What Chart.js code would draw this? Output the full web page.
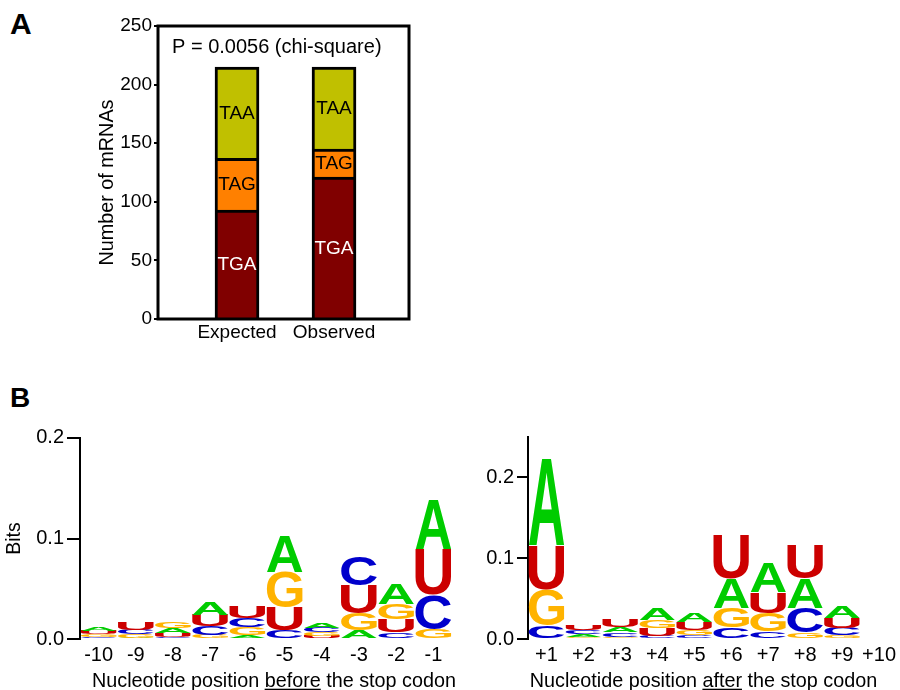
<!DOCTYPE html>
<html lang="en">
<head>
<meta charset="UTF-8">
<title>Stop codon usage and sequence context</title>
<script src="https://cdn.jsdelivr.net/npm/chart.js@4.4.1/dist/chart.umd.min.js"></script>
<style>
  body { margin: 0; width: 900px; height: 690px; overflow: hidden; background: #fff; position: relative;
         font-family: "Liberation Sans", Arial, sans-serif; }
  canvas, .tag { position: absolute; }
  .tag { font-weight: bold; line-height: 1; }
</style>
</head>
<body>
<div class="tag" style="left:10px;top:9px;font-size:30px">A</div>
<div class="tag" style="left:10px;top:384px;font-size:28px">B</div>
<canvas id="codons" width="450" height="350" style="left:0;top:0"></canvas>
<canvas id="before" width="470" height="310" style="left:0;top:380px"></canvas>
<canvas id="after" width="430" height="310" style="left:470px;top:380px"></canvas>
<script>
// ---- panel A : stop codon counts ----
const groups = ['Expected', 'Observed'];
const tgaCounts = [93, 121];
const tagCounts = [44, 24];
const taaCounts = [78, 70];
const pText = 'P = 0.0056 (chi-square)';

// ---- panel B : letter heights (bits) ----
const beforePos = ['-10', '-9', '-8', '-7', '-6', '-5', '-4', '-3', '-2', '-1'];
const beforeA = [0.004, 0.0015, 0.005, 0.0122, 0.004, 0.036, 0.005, 0.0086, 0.0205, 0.048];
const beforeC = [0.002, 0.0045, 0.0025, 0.0086, 0.009, 0.0086, 0.0045, 0.0284, 0.0066, 0.034];
const beforeG = [0.003, 0.0035, 0.007, 0.0046, 0.008, 0.035, 0.004, 0.017, 0.015, 0.010];
const beforeU = [0.0035, 0.0077, 0.004, 0.011, 0.011, 0.023, 0.003, 0.0278, 0.013, 0.045];

const afterPos = ['+1', '+2', '+3', '+4', '+5', '+6', '+7', '+8', '+9', '+10'];
const afterA = [0.106, 0.0035, 0.0065, 0.015, 0.0115, 0.037, 0.0367, 0.037, 0.015, 0];
const afterC = [0.0165, 0.0055, 0.005, 0.004, 0.005, 0.014, 0.010, 0.030, 0.009, 0];
const afterG = [0.044, 0.0025, 0.003, 0.010, 0.006, 0.024, 0.022, 0.008, 0.005, 0];
const afterU = [0.055, 0.0065, 0.0095, 0.009, 0.010, 0.0545, 0.026, 0.041, 0.012, 0];

const FONT = '"Liberation Sans", Arial, sans-serif';
Chart.defaults.font.family = FONT;
Chart.defaults.font.size = 19;
Chart.defaults.color = '#000';

// frame, p value, y title and segment names for panel A
const codonFrame = {
  id: 'codonFrame',
  afterDatasetsDraw(chart) {
    const { ctx, chartArea: a } = chart;
    ctx.save();
    ctx.font = '19px ' + FONT;
    ctx.textAlign = 'center';
    ctx.textBaseline = 'middle';
    chart.data.datasets.forEach((ds, di) => {
      chart.getDatasetMeta(di).data.forEach(bar => {
        const p = bar.getProps(['x', 'y', 'base'], true);
        ctx.fillStyle = ds.textColor;
        ctx.fillText(ds.label, p.x, (p.y + p.base) / 2 + 1);
      });
    });
    ctx.lineWidth = 3;
    ctx.strokeStyle = '#000';
    ctx.strokeRect(a.left, a.top, a.right - a.left, a.bottom - a.top);
    ctx.fillStyle = '#000';
    ctx.font = '20px ' + FONT;
    ctx.textAlign = 'left';
    ctx.textBaseline = 'alphabetic';
    ctx.fillText(pText, a.left + 14, a.top + 27);
    // y title sits a little below the middle of the axis
    ctx.font = '19.8px ' + FONT;
    ctx.textAlign = 'center';
    ctx.textBaseline = 'middle';
    ctx.translate(108, 182.5);
    ctx.rotate(-Math.PI / 2);
    ctx.fillText('Number of mRNAs', 0, 0);
    ctx.restore();
  }
};

new Chart(document.getElementById('codons'), {
  type: 'bar',
  data: {
    datasets: [
      { label: 'TGA', data: tgaCounts.map((v, i) => ({ x: i + 1, y: v })), backgroundColor: '#800000', textColor: '#fff' },
      { label: 'TAG', data: tagCounts.map((v, i) => ({ x: i + 1, y: v })), backgroundColor: '#ff8000', textColor: '#000' },
      { label: 'TAA', data: taaCounts.map((v, i) => ({ x: i + 1, y: v })), backgroundColor: '#c0c000', textColor: '#000' }
    ]
  },
  options: {
    responsive: false,
    animation: false,
    datasets: { bar: { barThickness: 44, borderWidth: 3, borderColor: '#000', borderSkipped: 'start' } },
    layout: { padding: { left: 0, right: 41, top: 26, bottom: 0 } },
    plugins: { legend: { display: false }, tooltip: { enabled: false } },
    scales: {
      x: {
        type: 'linear', stacked: true, offset: false, bounds: 'data', min: 0.1856, max: 2.773,
        grid: { display: false, drawTicks: false }, border: { display: false },
        ticks: { padding: 2.5, maxRotation: 0, autoSkip: false, callback: v => groups[Math.round(v) - 1] || '' },
        afterBuildTicks: s => { s.ticks = groups.map((g, i) => ({ value: i + 1 })); },
        afterFit: s => { s.height = 31; }
      },
      y: {
        stacked: true, min: 0, max: 250,
        ticks: { stepSize: 50, padding: 2 },
        grid: { drawOnChartArea: false, tickLength: 4, lineWidth: 2, color: '#000' },
        border: { display: false },
        afterFit: s => { s.width = 158; }
      }
    }
  },
  plugins: [codonFrame]
});

// ---- logos ----
const letterColors = { A: '#00cc00', C: '#0000cc', G: '#ffb300', U: '#cc0000' };

// one dataset per rank so that the smallest letter sits at the bottom of each column
function stackLetters(cols) {
  const sets = [0, 1, 2, 3].map(() => ({ data: [], letters: [] }));
  for (let i = 0; i < cols.A.length; i++) {
    const col = ['A', 'C', 'G', 'U'].map(l => ({ l, v: cols[l][i] })).sort((a, b) => a.v - b.v);
    col.forEach((c, r) => { sets[r].data.push(c.v); sets[r].letters.push(c.l); });
  }
  return sets.map(s => ({
    data: s.data, letters: s.letters,
    backgroundColor: 'rgba(0,0,0,0)', borderWidth: 0,
    barPercentage: 0.96, categoryPercentage: 1
  }));
}

const glyphs = {};
function glyph(ctx, l) {
  if (!glyphs[l]) {
    ctx.font = 'bold 200px ' + FONT;
    const m = ctx.measureText(l);
    glyphs[l] = {
      left: m.actualBoundingBoxLeft,
      w: m.actualBoundingBoxLeft + m.actualBoundingBoxRight,
      asc: m.actualBoundingBoxAscent,
      h: m.actualBoundingBoxAscent + m.actualBoundingBoxDescent
    };
  }
  return glyphs[l];
}

const logoLetters = {
  id: 'logoLetters',
  afterDatasetsDraw(chart) {
    const ctx = chart.ctx;
    chart.data.datasets.forEach((ds, di) => {
      chart.getDatasetMeta(di).data.forEach((bar, i) => {
        const p = bar.getProps(['x', 'y', 'base', 'width'], true);
        const h = p.base - p.y;
        if (h < 0.3) return;
        const l = ds.letters[i];
        ctx.save();
        const g = glyph(ctx, l);
        ctx.font = 'bold 200px ' + FONT;
        ctx.fillStyle = letterColors[l];
        ctx.textAlign = 'left';
        ctx.textBaseline = 'alphabetic';
        ctx.translate(p.x - p.width / 2, p.y);
        ctx.scale(p.width / g.w, h / g.h);
        ctx.fillText(l, g.left, g.asc);
        ctx.restore();
      });
    });
  }
};

// x title with one underlined word
const underTitle = {
  id: 'underTitle',
  afterDraw(chart, args, opts) {
    const ctx = chart.ctx;
    ctx.save();
    ctx.font = '19.8px ' + FONT;
    ctx.fillStyle = '#000';
    ctx.textAlign = 'left';
    ctx.textBaseline = 'alphabetic';
    const widths = opts.parts.map(p => ctx.measureText(p[0]).width);
    let x = opts.centerX - widths.reduce((a, b) => a + b, 0) / 2;
    opts.parts.forEach((p, k) => {
      ctx.fillText(p[0], x, opts.baseline);
      if (p[1]) ctx.fillRect(x, opts.baseline + 2, widths[k], 1.5);
      x += widths[k];
    });
    ctx.restore();
  }
};

function logoChart(id, labels, cols, yMax, frame, bits, title) {
  return new Chart(document.getElementById(id), {
    type: 'bar',
    data: { labels: labels, datasets: stackLetters(cols) },
    options: {
      responsive: false,
      animation: false,
      layout: { padding: { left: frame.padLeft, right: frame.padRight, top: frame.top, bottom: 0 } },
      plugins: { legend: { display: false }, tooltip: { enabled: false }, underTitle: title },
      scales: {
        x: {
          stacked: true, offset: true,
          grid: { display: false, drawTicks: false }, border: { display: false },
          ticks: { padding: 4, maxRotation: 0, autoSkip: false, font: { size: 20 } },
          afterFit: s => { s.height = frame.xHeight; }
        },
        y: {
          stacked: true, min: 0, max: yMax,
          grid: { drawOnChartArea: false, tickLength: frame.tick, lineWidth: 2, color: '#000' },
          border: { display: true, color: '#000', width: 2 },
          ticks: { stepSize: 0.1, includeBounds: false, padding: 3, font: { size: 20 }, callback: v => v.toFixed(1) },
          title: { display: bits, text: 'Bits', padding: 0, font: { size: 19.5 } },
          afterFit: s => { s.width = frame.yWidth; }
        }
      }
    },
    plugins: [logoLetters, underTitle]
  });
}

logoChart('before', beforePos, { A: beforeA, C: beforeC, G: beforeG, U: beforeU }, 0.2,
  { padLeft: 3.3, yWidth: 76.7, padRight: 18, top: 57.7, xHeight: 50.7, tick: 13 }, true,
  { centerX: 274, baseline: 306.7, parts: [['Nucleotide position ', false], ['before', true], [' the stop codon', false]] });

logoChart('after', afterPos, { A: afterA, C: afterC, G: afterG, U: afterU }, 0.25,
  { padLeft: 0, yWidth: 58, padRight: 0, top: 56.7, xHeight: 51, tick: 11 }, false,
  { centerX: 233.5, baseline: 306.7, parts: [['Nucleotide position ', false], ['after', true], [' the stop codon', false]] });
</script>
</body>
</html>
